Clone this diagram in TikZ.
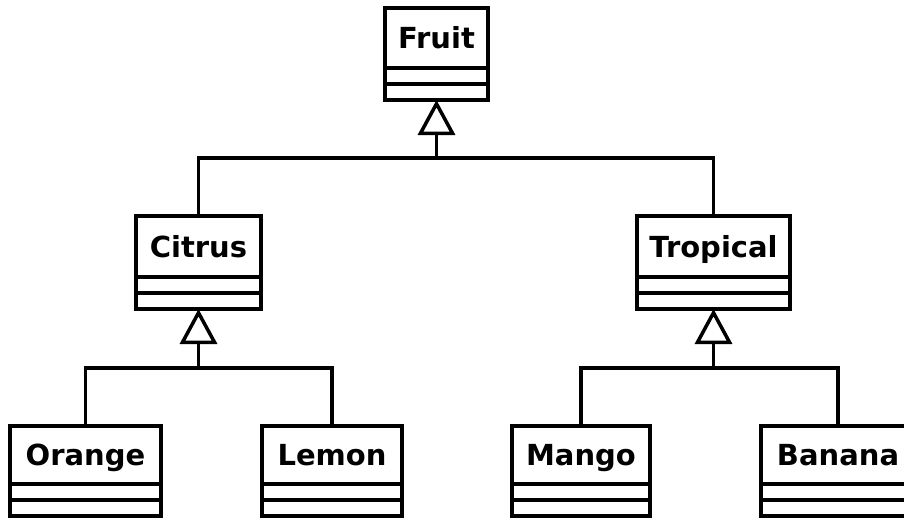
\documentclass[tikz,border=0pt]{standalone}
\usepackage{fontspec}
\setmainfont{DejaVu Sans}
\usetikzlibrary{arrows.meta}
\tikzset{
  umlline/.style={line width=3.5pt, line join=miter, line cap=rect},
  namepart/.style={draw, umlline, fill=white, inner sep=0pt, outer sep=0pt, anchor=north west,
    font=\fontsize{29}{33}\selectfont\bfseries, text height=21pt, text depth=0pt},
  subpart/.style={draw, umlline, fill=white, inner sep=0pt, outer sep=0pt, anchor=north west, minimum height=16pt},
  gen/.style={umlline, -{Triangle[open, length=35pt, width=37pt, line width=3.5pt]}},
}
\newcommand{\umlclass}[6]{%
  % #1 name, #2 x, #3 y top, #4 width, #5 name height, #6 text
  \node[namepart, minimum width=#4pt, minimum height=#5pt] (#1) at (#2,#3) {#6};
  \node[subpart, minimum width=#4pt] (#1-attr) at (#1.south west) {};
  \node[subpart, minimum width=#4pt] (#1-ops) at (#1-attr.south west) {};
}
\begin{document}
\begin{tikzpicture}[x=1pt, y=-1pt]
\useasboundingbox (0,0) rectangle (904,520);
\umlclass{fruit}{385}{8}{103}{60}{Fruit}
\umlclass{citrus}{136}{216}{125}{61}{Citrus}
\umlclass{tropical}{637}{216}{153}{61}{Tropical}
\umlclass{orange}{10}{426}{151}{58}{Orange}
\umlclass{lemon}{262}{426}{140}{58}{Lemon}
\umlclass{mango}{512}{426}{138}{58}{Mango}
\umlclass{banana}{761}{426}{154}{58}{Banana}
% generalizations
\coordinate (fj) at (fruit-ops.south |- 0,158);
\draw[umlline] (citrus.north) |- (fj);
\draw[umlline] (tropical.north) |- (fj);
\draw[gen] (fj) -- (fruit-ops.south);
\coordinate (cj) at (citrus-ops.south |- 0,368);
\draw[umlline] (orange.north) |- (cj);
\draw[umlline] (lemon.north) |- (cj);
\draw[gen] (cj) -- (citrus-ops.south);
\coordinate (tj) at (tropical-ops.south |- 0,368);
\draw[umlline] (mango.north) |- (tj);
\draw[umlline] (banana.north) |- (tj);
\draw[gen] (tj) -- (tropical-ops.south);
\end{tikzpicture}
\end{document}
